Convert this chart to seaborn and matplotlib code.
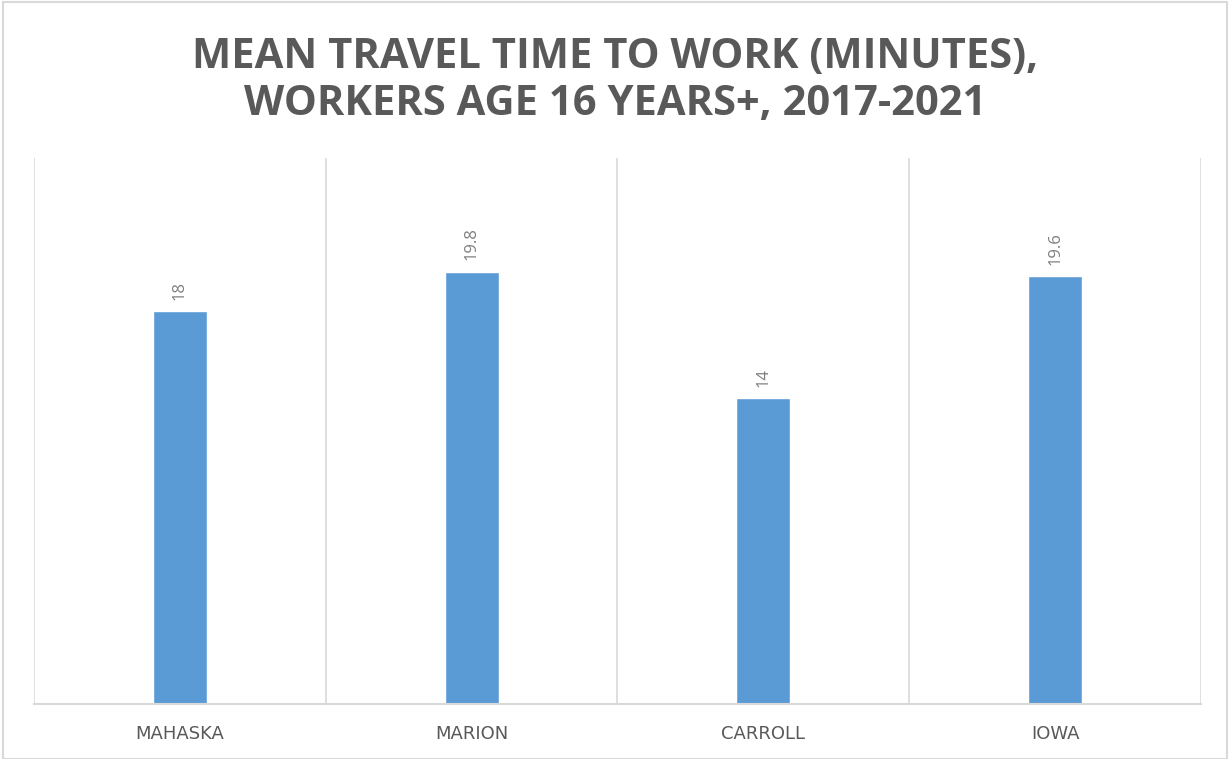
import matplotlib
matplotlib.use("Agg")
import matplotlib.pyplot as plt
import seaborn as sns
import pandas as pd
from matplotlib.patches import Rectangle

counties = ["MAHASKA", "MARION", "CARROLL", "IOWA"]
travel_minutes = [18, 19.8, 14, 19.6]
title_text = "MEAN TRAVEL TIME TO WORK (MINUTES),\nWORKERS AGE 16 YEARS+, 2017-2021"

df = pd.DataFrame({"county": counties, "minutes": travel_minutes})

sns.set_theme(style="white")
plt.rcParams["font.family"] = ["Open Sans", "DejaVu Sans"]

fig = plt.figure(figsize=(12.3, 7.59), dpi=100)
ax = fig.add_axes([34/1230, 55/759, (1201-34)/1230, (704-158)/759])

sns.barplot(data=df, x="county", y="minutes", color="#5B9BD5", width=0.185,
            saturation=1, ax=ax)

ax.set_ylim(0, 25)
ax.set_xlim(-0.5, len(counties) - 0.5)
ax.set_xlabel("")
ax.set_ylabel("")
ax.set_yticks([])

# category separators
for xpos in [i - 0.5 for i in range(len(counties) + 1)]:
    ax.axvline(xpos, color="#d9d9d9", lw=1.2, zorder=0)

for s in ["top", "right", "left"]:
    ax.spines[s].set_visible(False)
ax.spines["bottom"].set_color("#d9d9d9")
ax.spines["bottom"].set_linewidth(1.5)

ax.tick_params(axis="x", length=0, pad=15, labelsize=13, labelcolor="#595959")
for lbl in ax.get_xticklabels():
    lbl.set_family(["DejaVu Sans"])

for i, v in enumerate(travel_minutes):
    ax.annotate(f"{v:g}", (i, v), xytext=(0, 8), textcoords="offset points",
                rotation=90, ha="center", va="bottom", fontsize=12, color="#7f7f7f")

fig.text(0.5, 1 - 81/759, title_text, ha="center", va="center", fontsize=30,
         fontweight="bold", color="#595959", linespacing=1.22)

fig.patches.append(Rectangle((3/1230, 0), 1224/1230, 757/759, transform=fig.transFigure,
                             fill=False, edgecolor="#d9d9d9", lw=1.5))

fig.savefig("out.png", dpi=100)
